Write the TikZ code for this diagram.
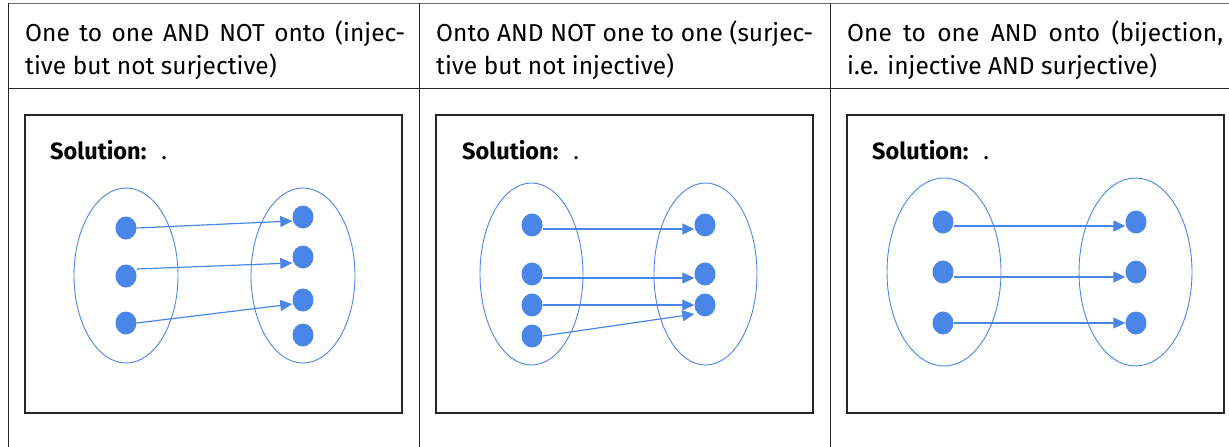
\documentclass[tikz,border=0pt]{standalone}
\usepackage{fontspec}
\setmainfont{Fira Sans}
\usetikzlibrary{shapes.geometric,arrows.meta}
\definecolor{dotblue}{HTML}{4A86E8}
\tikzset{
  dotnode/.style={ellipse,fill=dotblue,draw=none,minimum width=21pt,minimum height=23pt,inner sep=0pt},
  setnode/.style={ellipse,draw=dotblue,line width=0.9pt,inner sep=0pt},
  maparrow/.style={draw=dotblue,line width=1.2pt,-{Triangle[length=12pt,width=11pt]}},
  panelbox/.style={draw=black!85,line width=1.1pt},
  tableline/.style={draw=black!85,line width=1pt},
  headtext/.style={anchor=north west,inner sep=0pt,text width=380pt,align=justify,font=\fontsize{24.5}{33}\selectfont},
  soltext/.style={anchor=base west,inner sep=0pt,font=\fontsize{23.5}{26}\selectfont}
}
\begin{document}
\begin{tikzpicture}[x=1pt,y=-1pt]
\useasboundingbox (0,0) rectangle (1229,447);
% table
\draw[draw=black!55,line width=1pt] (8,3) -- (1235,3);
\draw[tableline] (8,88) -- (1235,88);
\draw[tableline] (8,3) -- (8,450);
\draw[tableline] (419,3) -- (419,450);
\draw[tableline] (830,3) -- (830,450);
% headers
\node[headtext] (h1) at (25,20.5) {One to one AND NOT onto (injec-\linebreak tive but not surjective)};
\node[headtext,text width=377pt] (h2) at (436,20.5) {Onto AND NOT one to one (surjec-\linebreak tive but not injective)};
\node[headtext,text width=376pt] (h3) at (847,20.5) {One to one AND onto (bijection,\linebreak i.e. injective AND surjective)};
% panels
\draw[panelbox] (25,115) rectangle (402,413);
\draw[panelbox] (436,115) rectangle (813,413);
\draw[panelbox] (847,115) rectangle (1224,413);
\node[soltext] (s1) at (50,159) {\textbf{Solution:}\hspace{15pt}.};
\node[soltext] (s2) at (462,159) {\textbf{Solution:}\hspace{15pt}.};
\node[soltext] (s3) at (872,159) {\textbf{Solution:}\hspace{15pt}.};
% panel 1
\node[setnode,minimum width=104pt,minimum height=175pt] (A1) at (126,275.5) {};
\node[setnode,minimum width=104pt,minimum height=175pt] (B1) at (303,275.5) {};
\node[dotnode] (p1a1) at (126,228) {};
\node[dotnode] (p1a2) at (126,276) {};
\node[dotnode] (p1a3) at (126,323) {};
\node[dotnode] (p1b1) at (303,217) {};
\node[dotnode] (p1b2) at (303,257) {};
\node[dotnode] (p1b3) at (303,300) {};
\node[dotnode] (p1b4) at (303,335) {};
\draw[maparrow] (p1a1.east) -- ([yshift=-4pt]p1b1.west);
\draw[maparrow] ([yshift=7pt]p1a2.east) -- ([yshift=-6pt]p1b2.west);
\draw[maparrow] (p1a3.east) -- ([yshift=-4pt]p1b3.west);
% panel 2
\node[setnode,minimum width=103pt,minimum height=182pt] (A2) at (531.5,274) {};
\node[setnode,minimum width=103pt,minimum height=182pt] (B2) at (705.5,274) {};
\node[dotnode] (p2a1) at (532,225) {};
\node[dotnode] (p2a2) at (532,274) {};
\node[dotnode] (p2a3) at (532,305) {};
\node[dotnode] (p2a4) at (532,336) {};
\node[dotnode] (p2b1) at (705,225) {};
\node[dotnode] (p2b2) at (705,274) {};
\node[dotnode] (p2b3) at (705,305) {};
\draw[maparrow] ([yshift=-4pt]p2a1.east) -- ([yshift=-4pt]p2b1.west);
\draw[maparrow] ([yshift=-4pt]p2a2.east) -- ([yshift=-4pt]p2b2.west);
\draw[maparrow] (p2a3.east) -- (p2b3.west);
\draw[maparrow] (p2a4.east) -- ([yshift=-9pt]p2b3.west);
% panel 3
\node[setnode,minimum width=114pt,minimum height=188pt] (A3) at (944,272) {};
\node[setnode,minimum width=113pt,minimum height=188pt] (B3) at (1135.5,272) {};
\node[dotnode] (p3a1) at (943,222) {};
\node[dotnode] (p3a2) at (943,272) {};
\node[dotnode] (p3a3) at (943,323) {};
\node[dotnode] (p3b1) at (1136,222) {};
\node[dotnode] (p3b2) at (1136,272) {};
\node[dotnode] (p3b3) at (1136,323) {};
\draw[maparrow] ([yshift=-4pt]p3a1.east) -- ([yshift=-4pt]p3b1.west);
\draw[maparrow] ([yshift=-5pt]p3a2.east) -- ([yshift=-5pt]p3b2.west);
\draw[maparrow] (p3a3.east) -- (p3b3.west);
\end{tikzpicture}
\end{document}
